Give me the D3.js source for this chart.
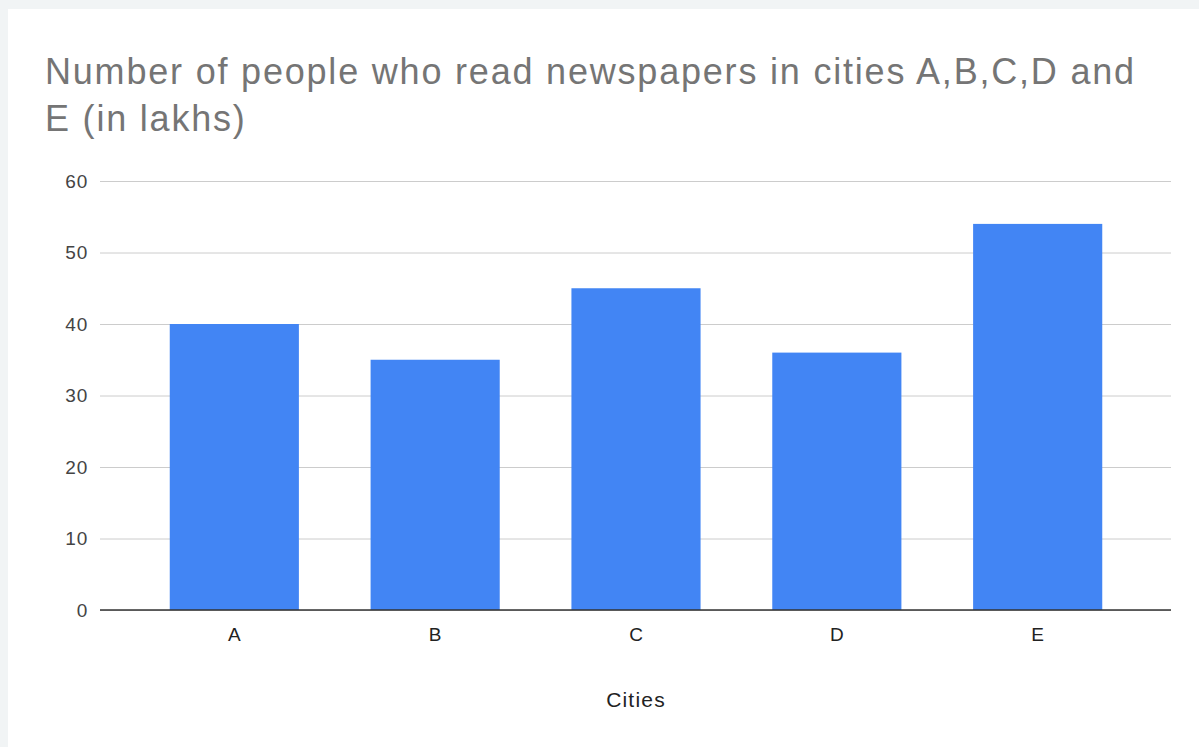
<!DOCTYPE html>
<html>
<head>
<meta charset="utf-8">
<script src="https://cdn.jsdelivr.net/npm/d3@7"></script>
<style>
  body { margin: 0; background: #f1f4f5; }
  #graf { position: absolute; left: 8px; top: 9px; width: 1191px; height: 738px; background: #fff; }
  text { font-family: "Liberation Sans", Arial, sans-serif; }
</style>
</head>
<body>
<div id="graf"></div>
<script>
const ciudades = ['A', 'B', 'C', 'D', 'E']
const lectores = [40, 35, 45, 36, 54]
const ticksY = [0, 10, 20, 30, 40, 50, 60]
const titulo = ['Number of people who read newspapers in cities A,B,C,D and', 'E (in lakhs)']
const ejeX = 'Cities'

const ancho = 1199
const alto = 747

const svg = d3.select('body')
  .append('svg')
  .attr('width', ancho)
  .attr('height', alto)
  .style('position', 'absolute')
  .style('left', 0)
  .style('top', 0)

// titulo
svg.append('text')
  .attr('x', 45)
  .attr('y', 84)
  .attr('fill', '#757575')
  .attr('font-size', '36px')
  .attr('letter-spacing', '1.8px')
  .selectAll('tspan')
  .data(titulo)
  .enter()
  .append('tspan')
  .attr('x', 45)
  .attr('dy', (d, i) => i === 0 ? 0 : 47)
  .text(d => d)

const yScale = d3.scaleLinear()
  .domain([0, 60])
  .range([610, 181])

const xScale = d3.scaleBand()
  .domain(ciudades)
  .range([134, 1138])
  .paddingInner(0.357)
  .paddingOuter(0.178)

// grid
const yAxis = d3.axisLeft(yScale)
  .tickValues(ticksY)
  .tickSize(-(1171 - 100))
  .tickPadding(12)

const gy = svg.append('g')
  .attr('transform', 'translate(100, 0)')
  .call(yAxis)
gy.select('.domain').remove()
gy.selectAll('.tick line').attr('stroke', '#cccccc').attr('stroke-width', 1)
gy.selectAll('.tick text')
  .attr('fill', '#444')
  .attr('font-size', '19px')
  .attr('letter-spacing', '0.8px')
  .attr('x', -12)

svg.selectAll('rect.bar')
  .data(lectores)
  .enter()
  .append('rect')
  .attr('class', 'bar')
  .attr('x', (d, i) => xScale(ciudades[i]))
  .attr('y', d => yScale(d))
  .attr('width', xScale.bandwidth())
  .attr('height', d => yScale(0) - yScale(d))
  .attr('fill', '#4285f4')

// linea base
svg.append('line')
  .attr('x1', 100)
  .attr('x2', 1171)
  .attr('y1', yScale(0))
  .attr('y2', yScale(0))
  .attr('stroke', '#333')
  .attr('stroke-width', 1.3)

const xAxis = d3.axisBottom(xScale).tickSize(0).tickPadding(18)
const gx = svg.append('g')
  .attr('transform', `translate(0, ${yScale(0)})`)
  .call(xAxis)
gx.select('.domain').remove()
gx.selectAll('.tick text')
  .attr('fill', '#222')
  .attr('font-size', '19px')

svg.append('text')
  .attr('x', 636)
  .attr('y', 707)
  .attr('text-anchor', 'middle')
  .attr('fill', '#222')
  .attr('font-size', '21px')
  .attr('letter-spacing', '1.2px')
  .text(ejeX)
</script>
</body>
</html>
